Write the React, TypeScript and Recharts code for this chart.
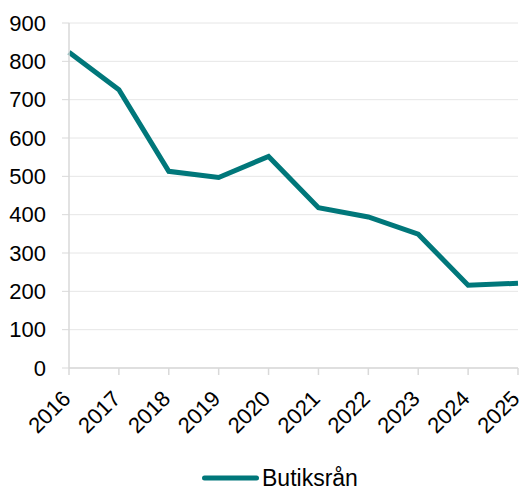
import React from "react";
import { LineChart, Line, XAxis, YAxis, CartesianGrid, Legend } from "recharts";

const years = ["2016", "2017", "2018", "2019", "2020", "2021", "2022", "2023", "2024", "2025"];
const butiksran = [824, 726, 513, 497, 552, 418, 394, 349, 216, 221];
const yTicks = [0, 100, 200, 300, 400, 500, 600, 700, 800, 900];

const data = years.map((y, i) => ({ year: y, value: butiksran[i] }));

const LINE_COLOR = "#00777A";
const AXIS_COLOR = "#d9d9d9";
const FONT = "'Liberation Sans', Arial, sans-serif";

const XTick = (props: any) => {
  const { x, y, payload } = props;
  const ax = x + 3;
  const ay = y + 25;
  return (
    <text
      x={ax}
      y={ay}
      textAnchor="end"
      fill="#000"
      fontSize={22}
      fontFamily={FONT}
      transform={`rotate(-45, ${ax}, ${ay})`}
    >
      {payload.value}
    </text>
  );
};

const LegendContent = () => (
  <div style={{ height: 20, position: "relative", fontFamily: FONT }}>
    <svg width={60} height={20} style={{ position: "absolute", left: 194, top: 0 }}>
      <line x1={2.5} y1={10} x2={54.5} y2={10} stroke={LINE_COLOR} strokeWidth={5} strokeLinecap="round" />
    </svg>
    <span
      style={{
        position: "absolute",
        left: 254,
        top: 0,
        lineHeight: "20px",
        fontSize: 23,
        color: "#000",
        whiteSpace: "nowrap",
      }}
    >
      Butiksrån
    </span>
  </div>
);

export default function App() {
  return (
    <div style={{ padding: "8px 0 0 8px", width: 515, height: 480 }}>
      <style>{"html,body{margin:0;padding:0;overflow:hidden;}"}</style>
      <LineChart width={515} height={480} data={data} margin={{ top: 15, right: 5, left: 0, bottom: 0 }}>
        <CartesianGrid vertical={false} stroke="#e6e6e6" strokeWidth={1} />
        <XAxis
          dataKey="year"
          tick={<XTick />}
          tickSize={7}
          tickMargin={0}
          height={100}
          interval={0}
          stroke={AXIS_COLOR}
          axisLine={{ stroke: AXIS_COLOR, strokeWidth: 1.5 }}
          tickLine={{ stroke: AXIS_COLOR, strokeWidth: 1.5 }}
        />
        <YAxis
          domain={[0, 900]}
          ticks={yTicks}
          width={61}
          tickSize={7}
          tickMargin={16}
          interval={0}
          axisLine={{ stroke: AXIS_COLOR, strokeWidth: 1.5 }}
          tickLine={{ stroke: AXIS_COLOR, strokeWidth: 1 }}
          tick={{ fill: "#000", fontSize: 22, fontFamily: FONT }}
        />
        <Legend
          verticalAlign="bottom"
          content={<LegendContent />}
          wrapperStyle={{ left: 0, width: 515 }}
        />
        <Line
          type="linear"
          dataKey="value"
          name="Butiksrån"
          stroke={LINE_COLOR}
          strokeWidth={5}
          dot={false}
          activeDot={false}
          isAnimationActive={false}
        />
      </LineChart>
    </div>
  );
}
